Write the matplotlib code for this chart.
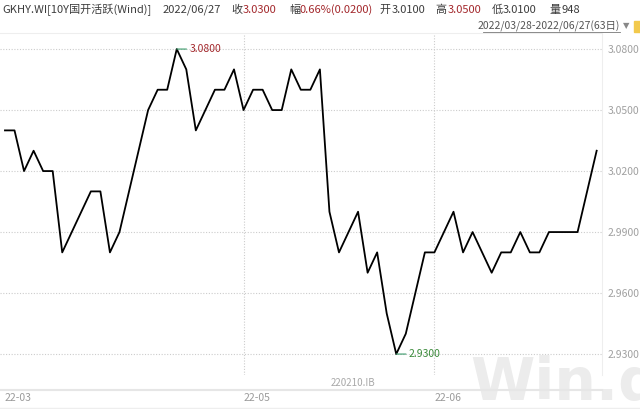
import matplotlib.pyplot as plt
from matplotlib.lines import Line2D

plt.rcParams['font.family'] = ['Noto Sans CJK SC', 'DejaVu Sans']

# trading days 2022/03/28 - 2022/06/27 (63 days, interbank calendar)
trade_days = {
    "03": [28, 29, 30, 31],
    "04": [1, 2, 6, 7, 8, 11, 12, 13, 14, 15, 18, 19, 20, 21, 22, 24, 25, 26, 27, 28, 29],
    "05": [5, 6, 7, 9, 10, 11, 12, 13, 16, 17, 18, 19, 20, 23, 24, 25, 26, 27, 30, 31],
    "06": [1, 2, 6, 7, 8, 9, 10, 13, 14, 15, 16, 17, 20, 21, 22, 23, 24, 27],
}
dates = ["2022-%s-%02d" % (m, d) for m, days in trade_days.items() for d in days]

yields = [3.04, 3.04, 3.02, 3.03, 3.02, 3.02, 2.98, 2.99, 3.00, 3.01,
          3.01, 2.98, 2.99, 3.01, 3.03, 3.05, 3.06, 3.06, 3.08, 3.07,
          3.04, 3.05, 3.06, 3.06, 3.07, 3.05, 3.06, 3.06, 3.05, 3.05,
          3.07, 3.06, 3.06, 3.07, 3.00, 2.98, 2.99, 3.00, 2.97, 2.98,
          2.95, 2.93, 2.94, 2.96, 2.98, 2.98, 2.99, 3.00, 2.98, 2.99,
          2.98, 2.97, 2.98, 2.98, 2.99, 2.98, 2.98, 2.99, 2.99, 2.99,
          2.99, 3.01, 3.03]

label_months = ["03", "05", "06"]
y_ticks = [2.93, 2.96, 2.99, 3.02, 3.05, 3.08]

header = [
    ("GKHY.WI[10Y国开活跃(Wind)]", "#3c3c3c", 2),
    ("2022/06/27", "#3c3c3c", 163),
    ("收", "#3c3c3c", 231),
    ("3.0300", "#a3282c", 243),
    ("幅", "#3c3c3c", 289),
    ("0.66%(0.0200)", "#a3282c", 300),
    ("开", "#3c3c3c", 379),
    ("3.0100", "#3c3c3c", 392),
    ("高", "#3c3c3c", 435),
    ("3.0500", "#a3282c", 448),
    ("低", "#3c3c3c", 492),
    ("3.0100", "#3c3c3c", 503),
    ("量", "#3c3c3c", 549),
    ("948", "#3c3c3c", 562),
]

W, H = 640, 409
fig = plt.figure(figsize=(6.4, 4.09), dpi=100)
ax = fig.add_axes([0, (H - 375) / H, 602 / W, 342 / H])

x = list(range(len(dates)))
ax.plot(x, yields, color="black", lw=1.3, zorder=3)

ax.set_xlim(-0.52, 62.56)
ax.set_ylim(2.9197, 3.0879)

# month ticks
tick_pos = [dates.index(next(d for d in dates if d[5:7] == m)) for m in label_months]
ax.set_xticks(tick_pos)
ax.set_xticklabels(["22-" + m for m in label_months], ha="left")
ax.tick_params(axis="x", length=0, pad=13, labelsize=7.5, labelcolor="#9a9a9a")

ax.set_yticks(y_ticks)
ax.set_yticklabels(["%.4f" % v for v in y_ticks])
ax.yaxis.tick_right()
ax.tick_params(axis="y", length=0, pad=4, labelsize=7.5, labelcolor="#a0a0a0")

ax.grid(axis="y", color="#cccccc", ls=(0, (1, 1.5)), lw=0.8)
for p in tick_pos[1:]:
    ax.axvline(p, color="#cccccc", ls=(0, (1, 1.5)), lw=0.8)

for s in ["left", "bottom"]:
    ax.spines[s].set_visible(False)
ax.spines["top"].set_color("#eeeeee")
ax.spines["right"].set_color("#eeeeee")

# high / low markers
i_max = yields.index(max(yields))
i_min = yields.index(min(yields))
ax.annotate("%.4f" % yields[i_max], (i_max, yields[i_max]), xytext=(9, 0),
            textcoords="offset points", va="center", fontsize=7.5, color="#a3282c",
            arrowprops=dict(arrowstyle="-", color="#3a9a6a", lw=0.8, shrinkA=0, shrinkB=0))
ax.annotate("%.4f" % yields[i_min], (i_min, yields[i_min]), xytext=(9, 0),
            textcoords="offset points", va="center", fontsize=7.5, color="#3a8a3a",
            arrowprops=dict(arrowstyle="-", color="#3a9a6a", lw=0.8, shrinkA=0, shrinkB=0))

# header
for txt, col, px in header:
    fig.text(px / W, 1 - 10 / H, txt, color=col, fontsize=8, va="center", ha="left")
fig.text(620 / W, 1 - 26 / H, "2022/03/28-2022/06/27(63日)", color="#555555",
         fontsize=7.5, va="center", ha="right")
fig.add_artist(Line2D([483 / W, 620 / W], [1 - 32 / H, 1 - 32 / H], color="#777777", lw=0.6))
fig.text(626 / W, 1 - 26 / H, "▼", color="#888888", fontsize=6, va="center", ha="center",
         family="DejaVu Sans")
fig.patches.append(plt.Rectangle((634 / W, 1 - 32 / H), 6 / W, 11 / H,
                                 transform=fig.transFigure, color="#f2c94c"))

# bottom band
fig.add_artist(Line2D([0, 602 / W], [1 - 390 / H, 1 - 390 / H], color="#e6e6e6", lw=1.5))
fig.add_artist(Line2D([0, 1], [1 - 408 / H, 1 - 408 / H], color="#eeeeee", lw=1))
fig.text(331 / W, 1 - 383 / H, "220210.IB", color="#a8a8a8", fontsize=7, va="center")
fig.text(470 / W, 1 - 400 / H, "Win.d", color="#ececec", fontsize=42,
         fontweight="bold", va="baseline", ha="left", family="DejaVu Sans", zorder=0)

fig.savefig("out.png", dpi=100)
